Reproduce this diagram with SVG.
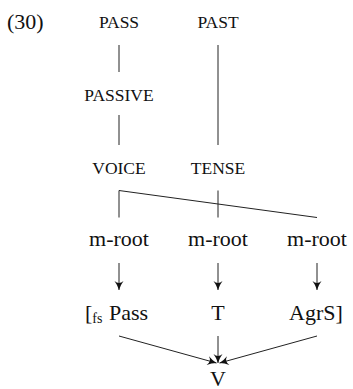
<svg xmlns="http://www.w3.org/2000/svg" width="353" height="389" viewBox="0 0 353 389">
<style>
text{fill:#111;}
.rm{font-size:22px;}
.sc{font-size:17.5px;text-anchor:middle;}
.c{text-anchor:middle;}
.ln{stroke:#222;stroke-width:1;fill:none;}
.ar{stroke:#222;stroke-width:1;fill:none;marker-end:url(#ah);}
</style>
<defs>
<marker id="ah" markerUnits="userSpaceOnUse" markerWidth="12" markerHeight="12" viewBox="-10 -6 12 12" refX="0" refY="0" orient="auto">
<path d="M0,0 Q-5,-1.5 -9,-4.5 Q-5,0 -9,4.5 Q-5,1.5 0,0 Z" fill="#111"/>
</marker>
</defs>
<g font-family="'Liberation Serif', serif">
<text id="label" class="rm" x="7" y="29">(30)</text>
<g id="pass"><text class="sc" x="119" y="28">PASS</text></g>
<g id="past"><text class="sc" x="218" y="28">PAST</text></g>
<g id="passive"><text class="sc" x="119" y="101">PASSIVE</text></g>
<g id="voice"><text class="sc" x="119" y="174">VOICE</text></g>
<g id="tense"><text class="sc" x="218" y="174">TENSE</text></g>
<g id="mroot1"><text class="rm c" x="119" y="246">m-root</text></g>
<g id="mroot2"><text class="rm c" x="218" y="246">m-root</text></g>
<g id="mroot3"><text class="rm c" x="317" y="246">m-root</text></g>
<g id="pass2"><text class="rm" x="85" y="320">[<tspan font-size="14" dy="3">fs</tspan><tspan x="109" dy="-3">Pass</tspan></text></g>
<g id="t"><text class="rm c" x="218" y="320">T</text></g>
<g id="agrs"><text class="rm" x="289" y="320">AgrS]</text></g>
<g id="v"><text class="rm c" x="218" y="386">V</text></g>
</g>
<g id="connectors">
<line class="ln" x1="119" y1="45" x2="119" y2="72"/>
<line class="ln" x1="119" y1="115" x2="119" y2="145"/>
<line class="ln" x1="218" y1="45" x2="218" y2="145"/>
<line class="ln" x1="119" y1="217.5" x2="119" y2="190.5"/>
<line class="ln" x1="119" y1="190.5" x2="317" y2="217.5"/>
<line class="ln" x1="218" y1="190.5" x2="218" y2="217.5"/>
<line class="ar" x1="119" y1="263" x2="119" y2="290"/>
<line class="ar" x1="218" y1="263" x2="218" y2="290"/>
<line class="ar" x1="317" y1="263" x2="317" y2="290"/>
<line class="ar" x1="119" y1="336" x2="216.5" y2="363"/>
<line class="ar" x1="218" y1="336" x2="218" y2="363"/>
<line class="ar" x1="317" y1="336" x2="219.5" y2="363"/>
</g>
</svg>
